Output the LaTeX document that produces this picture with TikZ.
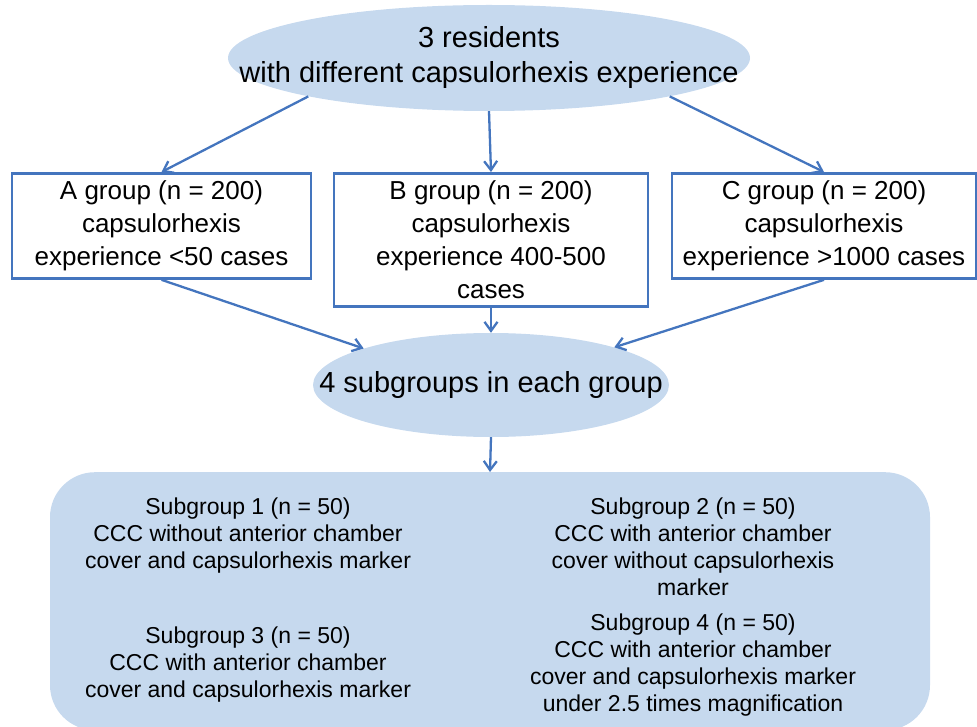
\documentclass[tikz,border=0pt]{standalone}
\usepackage{fontspec}
\setmainfont{Liberation Sans}
\usetikzlibrary{positioning,arrows.meta,shapes.geometric}
\definecolor{flowblue}{RGB}{68,117,190}
\definecolor{paleblue}{RGB}{198,217,238}

\begin{document}
\begin{tikzpicture}[x=1pt,y=-1pt,
  oval/.style={ellipse,fill=paleblue,inner sep=0pt},
  ovaltxt/.style={inner sep=0pt,align=center,font=\fontsize{29}{35}\selectfont},
  grpbox/.style={draw=flowblue,line width=2.6pt,fill=white,anchor=north,inner xsep=0pt,inner ysep=7.5pt,align=center,font=\fontsize{26}{33}\selectfont},
  subtxt/.style={anchor=north,inner sep=0pt,align=center,font=\fontsize{23}{27}\selectfont},
  flow/.style={flowblue,line width=2.3pt,-{Straight Barb[length=9pt,width=13pt]}}]
\useasboundingbox (0,0) rectangle (977,727);
% Residents and groups
\node[oval,minimum width=522pt,minimum height=106pt,label={[ovaltxt]center:3 residents\\with different capsulorhexis experience}] (res) at (489,58) {};
\node[grpbox,minimum width=299pt] (A) at (161.5,172) {A group (n = 200)\\capsulorhexis\\experience <50 cases};
\node[grpbox,minimum width=314pt] (B) at (491,172) {B group (n = 200)\\capsulorhexis\\experience 400-500\\cases};
\node[grpbox,minimum width=304pt] (C) at (824,172) {C group (n = 200)\\capsulorhexis\\experience >1000 cases};
\node[oval,minimum width=356pt,minimum height=104pt,label={[ovaltxt]center:4 subgroups in each group}] (mid) at (491,385) {};

% Subgroups
\node[fill=paleblue,rounded corners=45pt,anchor=north,minimum width=880pt,minimum height=258pt] (sub) at (490,472) {};
\node[subtxt] (s1) at (248,498) {Subgroup 1 (n = 50)\\CCC without anterior chamber\\cover and capsulorhexis marker};
\node[subtxt] (s2) at (693,498) {Subgroup 2 (n = 50)\\CCC with anterior chamber\\cover without capsulorhexis\\marker};
\node[subtxt] (s3) at (248,627) {Subgroup 3 (n = 50)\\CCC with anterior chamber\\cover and capsulorhexis marker};
\node[subtxt] (s4) at (693,614) {Subgroup 4 (n = 50)\\CCC with anterior chamber\\cover and capsulorhexis marker\\under 2.5 times magnification};

\draw[flow] (res.192) -- (A.north);
\draw[flow] (res.south) -- (B.north);
\draw[flow] (res.348) -- (C.north);
\draw[flow] (A.south) -- (mid.164);
\draw[flow] (B.south) -- (mid.north);
\draw[flow] (C.south) -- (mid.17);
\draw[flow] (mid.south) -- (sub.north);
\end{tikzpicture}
\end{document}
